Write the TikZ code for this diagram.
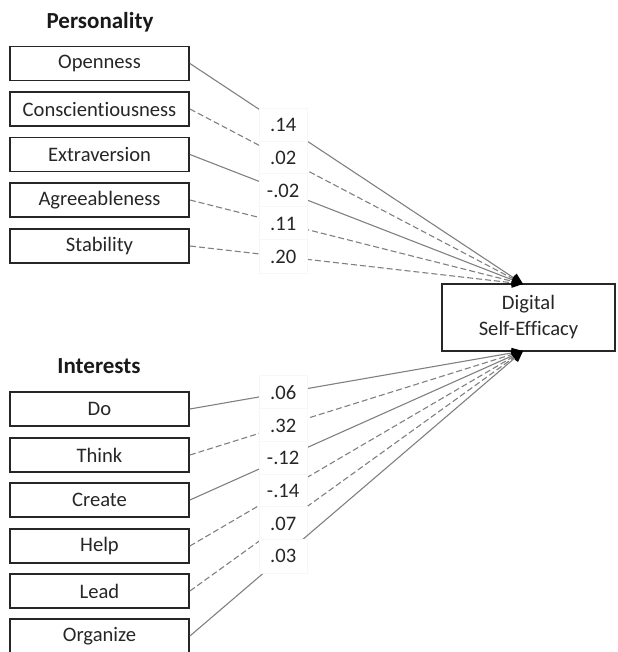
\documentclass[tikz,border=0pt]{standalone}
\usepackage{fontspec}
\setmainfont{Carlito}[Ligatures=NoCommon]
\usetikzlibrary{arrows.meta}

\begin{document}
\begin{tikzpicture}[x=0.5pt,y=0.5pt,
	box/.style={draw=black!85,line width=0.9pt,minimum width=89.5pt,minimum height=17pt,inner sep=0pt,text=black!85,font=\fontsize{10.3}{13}\selectfont},
	title/.style={font=\fontsize{11.5}{13}\selectfont\bfseries,text=black!90},
	link/.style={draw=black!50,line width=0.55pt,-{Triangle[length=5.5pt,width=5pt,color=black]}},
	dlink/.style={link,dash pattern=on 3pt off 1.5pt},
	wt/.style={pos=0.28,solid,fill=white,draw=black!3,line width=0.4pt,minimum width=24pt,minimum height=17pt,inner sep=0pt,text=black!85,font=\fontsize{10.3}{13}\selectfont}]
					\useasboundingbox (0,0) rectangle (617,652);
					% outcome
					\node[box,minimum width=86.5pt,minimum height=33.5pt,align=center] (dse) at (528.5,334.5) {Digital\\Self-Efficacy};
					\coordinate (ptop) at (523,368);
					\coordinate (pbot) at (523,301);
					
					% personality
					\node[title] (pers) at (100,630) {Personality};
					\node[box] (open) at (99.5,588.5) {Openness};
					\node[box] (cons) at (99.5,543) {Conscientiousness};
					\node[box] (extr) at (99.5,497.5) {Extraversion};
					\node[box] (agre) at (99.5,452) {Agreeableness};
					\node[box] (stab) at (99.5,406) {Stability};
					\draw[link] (open.east) -- (ptop) node[wt] {.14};
					\draw[dlink] (cons.east) -- (ptop) node[wt] {.02};
					\draw[link] (extr.east) -- (ptop) node[wt] {-.02};
					\draw[dlink] (agre.east) -- (ptop) node[wt] {.11};
					\draw[dlink] (stab.east) -- (ptop) node[wt] {.20};
					
					% interests
					\node[title] (intr) at (99,286) {Interests};
					\node[box] (do) at (99.5,243) {Do};
					\node[box] (think) at (99.5,197) {Think};
					\node[box] (create) at (99.5,152) {Create};
					\node[box] (help) at (99.5,106) {Help};
					\node[box] (lead) at (99.5,61) {Lead};
					\node[box] (org) at (99.5,16) {Organize};
					\draw[link] (do.east) -- (pbot) node[wt] {.06};
					\draw[dlink] (think.east) -- (pbot) node[wt] {.32};
					\draw[link] (create.east) -- (pbot) node[wt] {-.12};
					\draw[dlink] (help.east) -- (pbot) node[wt] {-.14};
					\draw[dlink] (lead.east) -- (pbot) node[wt] {.07};
					\draw[link] (org.east) -- (pbot) node[wt] {.03};
\end{tikzpicture}
\end{document}
